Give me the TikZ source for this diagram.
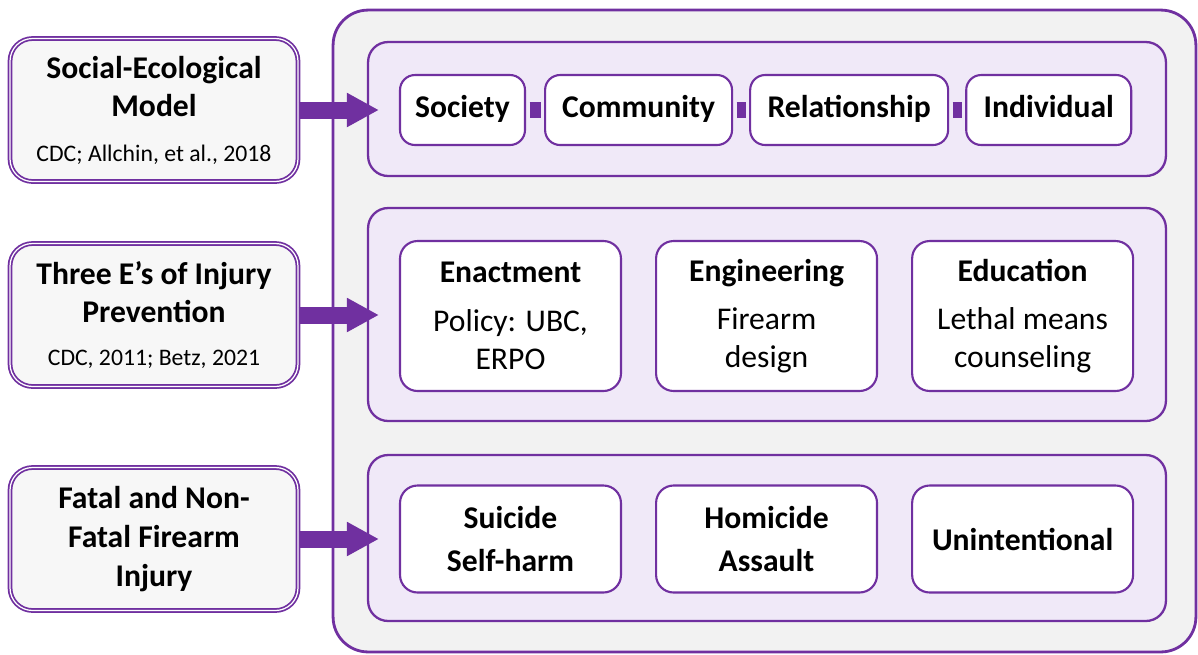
\documentclass[tikz,border=0pt]{standalone}
\usepackage{fontspec}
\setmainfont{Carlito}
\usepackage{xcolor}
\usetikzlibrary{arrows.meta, positioning}
\definecolor{purp}{HTML}{7030A0}
\definecolor{lav}{HTML}{F0E9F8}
\definecolor{pale}{HTML}{F2F2F2}
\definecolor{boxgray}{HTML}{F7F7F7}
\tikzstyle{frame} = [rectangle, rounded corners=0.7cm, minimum width=17.26cm, minimum height=12.84cm, draw=purp, line width=1.6pt, fill=pale]
\tikzstyle{panel} = [rectangle, rounded corners=0.4cm, minimum width=15.96cm, draw=purp, line width=1.3pt, fill=lav]
\tikzstyle{model} = [rectangle, rounded corners=0.45cm, minimum width=5.76cm, minimum height=2.86cm, text centered, align=center, draw=purp, double=white, double distance=0.7pt, line width=1pt, fill=boxgray, font=\fontsize{18}{21.6}\selectfont\bfseries]
\tikzstyle{level} = [rectangle, rounded corners=0.3cm, minimum height=1.4cm, text height=13pt, text depth=4pt, text centered, draw=purp, line width=1.2pt, fill=white, font=\fontsize{18}{21.6}\selectfont\bfseries]
\tikzstyle{item} = [rectangle, rounded corners=0.35cm, minimum width=4.42cm, text centered, align=center, draw=purp, line width=1.2pt, fill=white, font=\fontsize{18}{21.6}\selectfont]
\tikzstyle{link} = [purp, line width=0.32cm, shorten <=2pt, shorten >=2pt]
\tikzstyle{arrow} = [purp, line width=0.34cm, -{Triangle[width=0.64cm,length=0.64cm]}]

\begin{document}
\begin{tikzpicture}[x=0.02cm, y=-0.02cm]
    \useasboundingbox (0,0) rectangle (1198,654);

    % right side
    \node (frame) [frame] at (764.5,331) {};
    \node (levels) [panel, minimum height=2.68cm] at (767,109) {};
    \node (strategies) [panel, minimum height=4.26cm] at (767,314.5) {};
    \node (outcomes) [panel, minimum height=3.32cm] at (767,538) {};

    % left side
    \node (sem) [model] at (154,110) {Social-Ecological\\Model\\[4pt]{\mdseries\fontsize{13.5}{16}\selectfont CDC; Allchin, et al., 2018}};
    \node (three) [model] at (154,315) {Three E’s of Injury\\Prevention\\[3pt]{\mdseries\fontsize{13.5}{16}\selectfont CDC, 2011; Betz, 2021}};
    \node (injury) [model, font=\fontsize{18}{22.2}\selectfont\bfseries] at (154,539) {Fatal and Non-\\Fatal Firearm\\Injury};

    % levels
    \node (society) [level, minimum width=2.5cm] at (462.5,110) {Society};
    \node (community) [level, minimum width=3.74cm, right=0.36cm of society] {Community};
    \node (relationship) [level, minimum width=3.96cm, right=0.32cm of community] {Relationship};
    \node (individual) [level, minimum width=3.3cm, right=0.32cm of relationship] {Individual};

    % strategies
    \node (enact) [item, minimum height=3cm] at (510.5,316) {\textbf{Enactment}\\[6pt]Policy: UBC,\\ERPO};
    \node (engin) [item, minimum height=3cm, right=0.66cm of enact] {\textbf{Engineering}\\[6pt]Firearm\\design};
    \node (educ) [item, minimum height=3cm, right=0.66cm of engin] {\textbf{Education}\\[6pt]Lethal means\\counseling};

    % outcomes
    \node (suicide) [item, minimum height=2.14cm, font=\fontsize{18}{21}\selectfont\bfseries] at (510.5,539) {Suicide\\[4pt]Self-harm};
    \node (homicide) [item, minimum height=2.14cm, font=\fontsize{18}{21}\selectfont\bfseries, right=0.66cm of suicide] {Homicide\\[4pt]Assault};
    \node (unint) [item, minimum height=2.14cm, font=\fontsize{18}{21}\selectfont\bfseries, right=0.66cm of homicide] {Unintentional};

    \draw [link] (society) -- (community);
    \draw [link] (community) -- (relationship);
    \draw [link] (relationship) -- (individual);

    \draw [arrow] (sem.east) -- ([xshift=0.24cm]sem.east -| levels.west);
    \draw [arrow] (three.east) -- ([xshift=0.24cm]three.east -| strategies.west);
    \draw [arrow] (injury.east) -- ([xshift=0.24cm]injury.east -| outcomes.west);
\end{tikzpicture}
\end{document}
